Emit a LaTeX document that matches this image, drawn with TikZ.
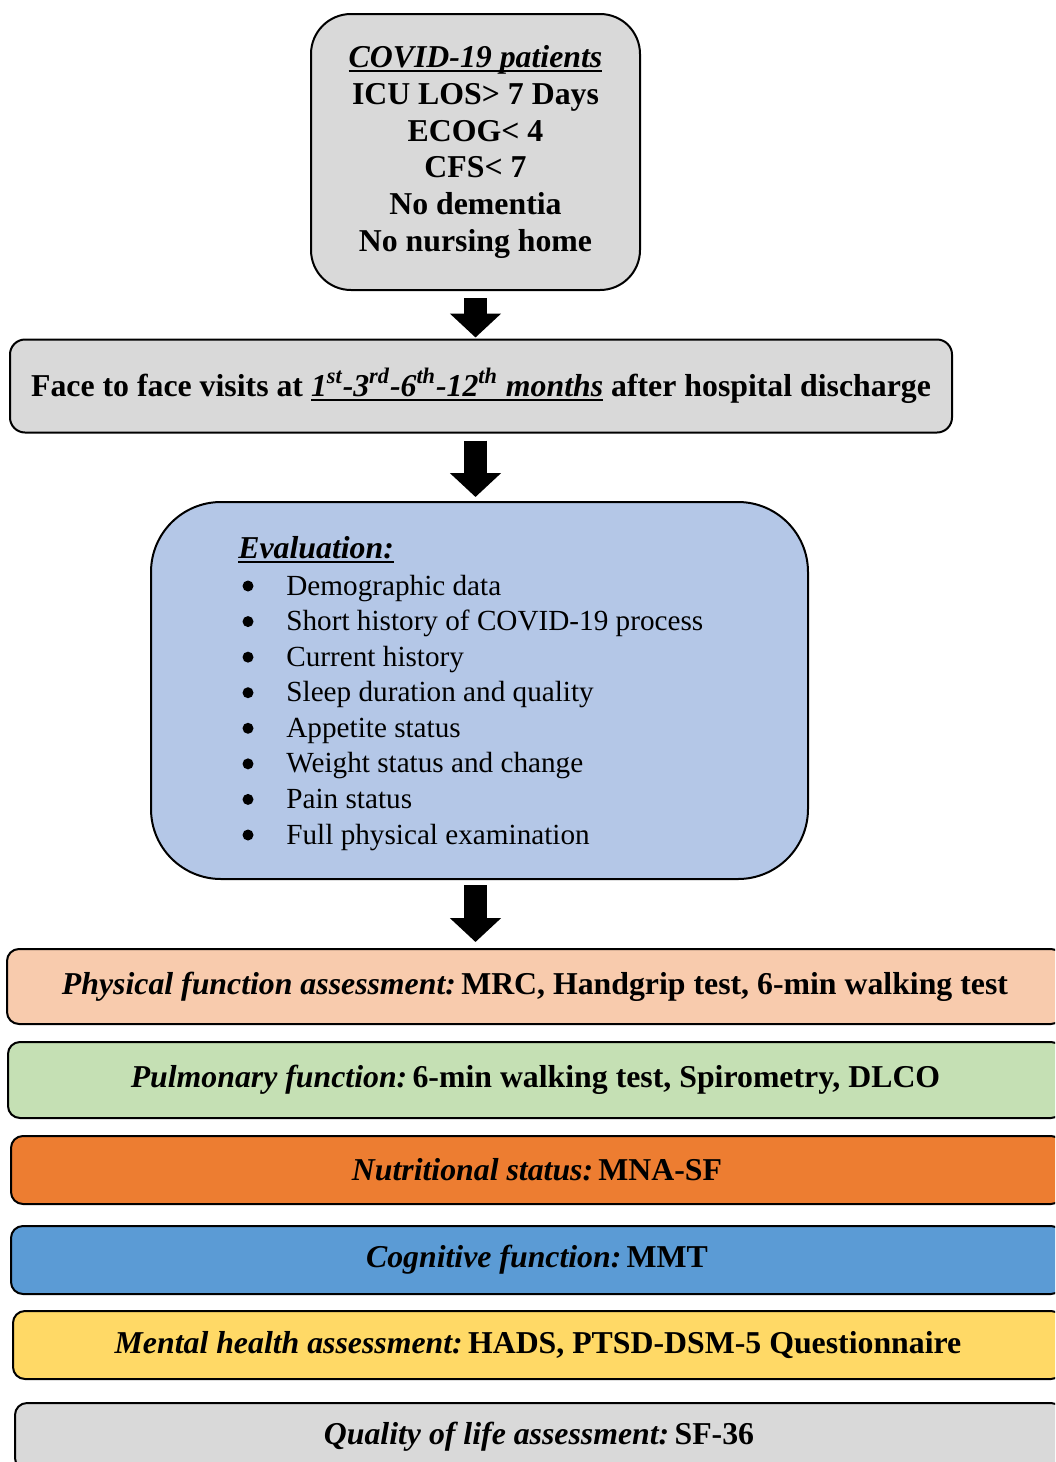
\documentclass[tikz,border=0pt]{standalone}
\usepackage{fontspec}
\setmainfont{Liberation Serif}
\usetikzlibrary{arrows.meta}

\newsavebox{\ulsave}
\newcommand{\thickul}[1]{\sbox{\ulsave}{#1}\rlap{\rule[-2.4pt]{\wd\ulsave}{1.3pt}}\usebox{\ulsave}}

\definecolor{boxgray}{HTML}{D9D9D9}
\definecolor{evalblue}{HTML}{B4C7E7}
\definecolor{physpeach}{HTML}{F8CBAD}
\definecolor{pulmgreen}{HTML}{C5E0B4}
\definecolor{nutrorange}{HTML}{ED7D31}
\definecolor{cogblue}{HTML}{5B9BD5}
\definecolor{mentyellow}{HTML}{FFD966}

\begin{document}
\begin{tikzpicture}[x=0.5pt,y=-0.5pt,
    box/.style={draw=black,line width=1pt,align=center,inner sep=0pt,
        font=\fontsize{15.9}{18.4}\selectfont\bfseries},
    assess/.style={box,rounded corners=6pt,anchor=west,minimum width=#1},
    blockarrow/.style={line width=11.5pt,-{Triangle[width=25pt,length=12pt]}}]
    \useasboundingbox (0,0) rectangle (1055,1462);
    \clip (0,0) rectangle (1055,1462);

    % inclusion criteria
    \node[box,fill=boxgray,rounded corners=20pt,minimum width=164.5pt,minimum height=138pt]
        (covid) at (475.5,152) {\thickul{\textit{COVID-19 patients}}\\ICU LOS> 7 Days\\ECOG< 4\\CFS< 7\\No dementia\\No nursing home};

    % follow-up visits
    \node[box,fill=boxgray,rounded corners=7.5pt,minimum width=471pt,minimum height=46.5pt]
        (visits) at (481,386) {Face to face visits at \thickul{\textit{1\textsuperscript{st}-3\textsuperscript{rd}-6\textsuperscript{th}-12\textsuperscript{th} months}} after hospital discharge};

    % evaluation
    \node[box,fill=evalblue,rounded corners=35pt,minimum width=328.5pt,minimum height=188.5pt]
        (eval) at (479.5,690.5) {};
    \node[anchor=west,inner sep=0pt,font=\fontsize{15.9}{18}\selectfont\bfseries\itshape]
        (evtitle) at (238,550) {\thickul{Evaluation:}};
    \foreach \txt [count=\i] in {Demographic data,Short history of COVID-19 process,Current history,
        Sleep duration and quality,Appetite status,Weight status and change,Pain status,Full physical examination} {
        \node[anchor=west,inner sep=0pt,text height=10pt,text depth=3pt,font=\fontsize{14.6}{17}\selectfont]
            (ev\i) at (286,{588+35.57*(\i-1)}) {\txt};
        \node[circle,fill=black,inner sep=0pt,minimum size=5.5pt] (bul\i) at (248,{586+35.57*(\i-1)}) {};
    }

    % assessments
    \node[assess=528pt,fill=physpeach,minimum height=37.5pt] (phys) at (6,986.5)
        {\textit{Physical function assessment:}\,MRC, Handgrip test, 6-min walking test};
    \node[assess=527.5pt,fill=pulmgreen,minimum height=38pt] (pulm) at (7,1080)
        {\textit{Pulmonary function:}\,6-min walking test, Spirometry, DLCO};
    \node[assess=526pt,fill=nutrorange,minimum height=34pt] (nutr) at (10,1170)
        {\textit{Nutritional status:}\,MNA-SF};
    \node[assess=526pt,fill=cogblue,minimum height=34pt] (cogn) at (10,1260)
        {\textit{Cognitive function:}\,MMT};
    \node[assess=525pt,fill=mentyellow,minimum height=34pt] (ment) at (12,1345)
        {\textit{Mental health assessment:}\,HADS, PTSD-DSM-5 Questionnaire};
    \node[assess=524pt,fill=boxgray,minimum height=33.5pt] (qol) at (14,1436.5)
        {\textit{Quality of life assessment:}\,SF-36};

    % arrows
    \draw[blockarrow,shorten <=3.5pt,shorten >=0.5pt] (covid.south) -- (covid.south |- visits.north);
    \draw[blockarrow,shorten <=3.5pt,shorten >=2pt] (visits.south -| covid.south) -- (eval.north -| covid.south);
    \draw[blockarrow,shorten <=2.5pt,shorten >=3pt] (eval.south -| covid.south) -- (phys.north -| covid.south);
\end{tikzpicture}
\end{document}
